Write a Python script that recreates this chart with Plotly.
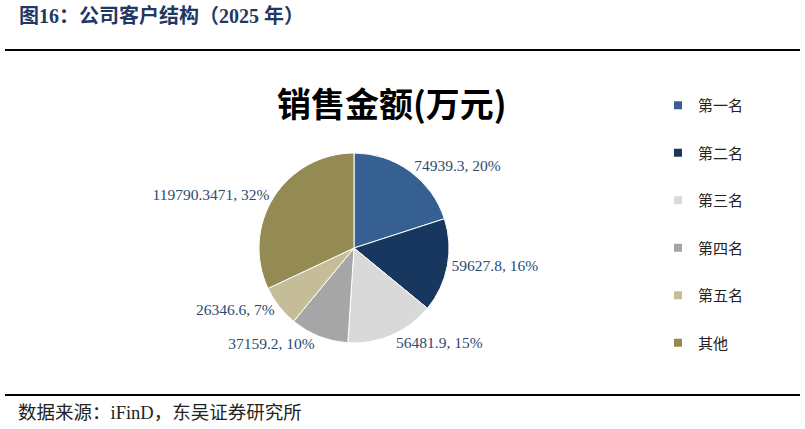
import plotly.graph_objects as go

categories = ["第一名", "第二名", "第三名", "第四名", "第五名", "其他"]
values = [74939.3, 59627.8, 56481.9, 37159.2, 26346.6, 119790.3471]
colors = ["#366092", "#17375E", "#D9D9D9", "#A6A6A6", "#C4BD97", "#948A54"]

W, H = 805, 429
cx, cy, r = 354, 248, 95

fig = go.Figure()
fig.add_trace(go.Pie(
    labels=categories,
    values=values,
    text=[str(v) for v in values],
    texttemplate="%{text}, %{percent:.0%}",
    textposition="outside",
    textfont=dict(family="Liberation Serif", size=15.5, color="#2E4A6E"),
    marker=dict(colors=colors, line=dict(color="white", width=1)),
    sort=False,
    direction="clockwise",
    rotation=0,
    showlegend=False,
    hoverinfo="label+value+percent",
    domain=dict(x=[(cx - r) / W, (cx + r) / W], y=[(H - cy - r) / H, (H - cy + r) / H]),
))

for i, (c, col) in enumerate(zip(categories, colors)):
    fig.add_trace(go.Scatter(
        x=[None], y=[None], mode="markers", name=c,
        marker=dict(symbol="square", size=8, color=col),
        legendgroup=f"g{i}", showlegend=True,
    ))

fig.update_layout(
    width=W, height=H,
    margin=dict(l=0, r=0, t=0, b=0),
    paper_bgcolor="white", plot_bgcolor="white",
    xaxis=dict(visible=False), yaxis=dict(visible=False),
    legend=dict(
        x=658 / W, y=1 - 89 / H, xanchor="left", yanchor="top",
        font=dict(family="Noto Sans CJK SC", size=15, color="#222222"),
        tracegroupgap=25, itemwidth=30, bgcolor="rgba(0,0,0,0)",
    ),
    shapes=[
        dict(type="line", xref="paper", yref="paper", x0=5 / W, x1=800 / W,
             y0=1 - 50 / H, y1=1 - 50 / H, line=dict(color="black", width=2)),
        dict(type="line", xref="paper", yref="paper", x0=5 / W, x1=800 / W,
             y0=1 - 395 / H, y1=1 - 395 / H, line=dict(color="black", width=2)),
    ],
    annotations=[
        dict(text="<b>图16：公司客户结构（2025 年）</b>", xref="paper", yref="paper",
             x=17 / W, y=1 - 16 / H, xanchor="left", yanchor="middle", showarrow=False,
             font=dict(family="Liberation Serif, Noto Sans CJK SC", size=20, color="#1F3864")),
        dict(text="<b>销售金额(万元)</b>", xref="paper", yref="paper",
             x=392 / W, y=1 - 103 / H, xanchor="center", yanchor="middle", showarrow=False,
             font=dict(family="Noto Sans CJK SC", size=34, color="black")),
        dict(text="数据来源：iFinD，东吴证券研究所", xref="paper", yref="paper",
             x=16 / W, y=1 - 413 / H, xanchor="left", yanchor="middle", showarrow=False,
             font=dict(family="Liberation Serif, Noto Sans CJK SC", size=18.5, color="#222222")),
    ],
)

fig.write_html("out.html")
